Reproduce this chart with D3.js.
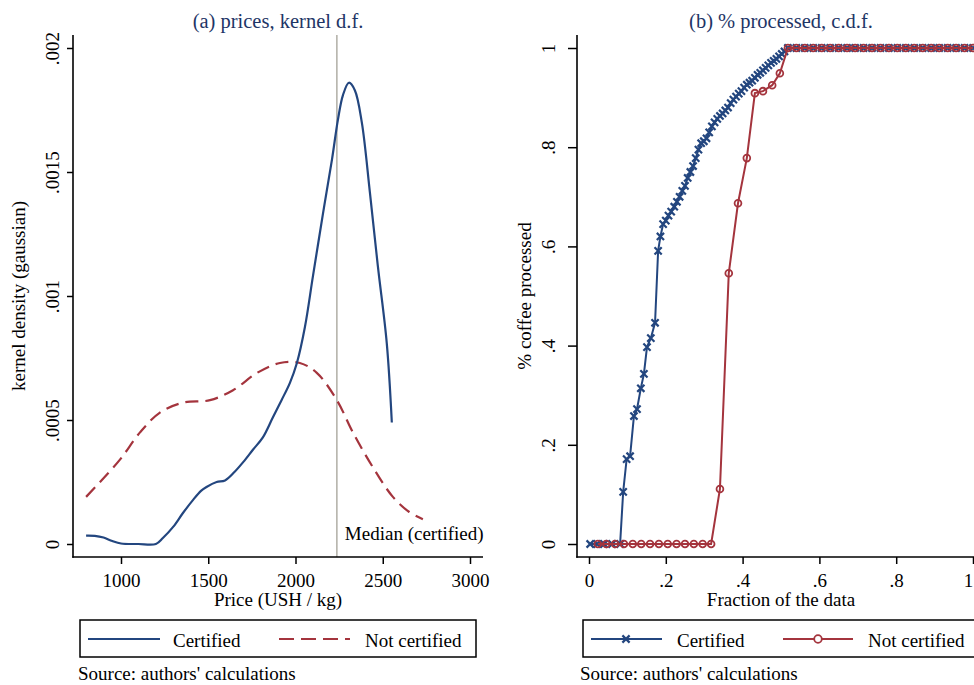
<!DOCTYPE html>
<html>
<head>
<meta charset="utf-8">
<script src="https://cdn.jsdelivr.net/npm/d3@7"></script>
<style>
  html, body { margin: 0; padding: 0; background: #fff; }
  svg { display: block; }
  text { font-family: "Liberation Serif", "Times New Roman", serif; }
</style>
</head>
<body>
<svg id="chart" width="974" height="685"></svg>
<script>
// ---------- DATA ----------
// Panel (a): kernel density of prices [price USH/kg, density]
const certifiedDensity = [
  [800,0.000034],[850,0.000033],[900,0.000026],[950,0.000012],[1000,0.000002],
  [1100,0],[1200,0],[1240,0.000024],[1300,0.00007],[1355,0.000125],[1412,0.000177],
  [1460,0.000215],[1490,0.00023],[1548,0.00025],[1596,0.000256],[1650,0.00029],
  [1700,0.00033],[1756,0.00038],[1813,0.00043],[1870,0.00051],[1920,0.00058],
  [1968,0.00065],[2008,0.00073],[2054,0.000875],[2100,0.00108],[2157,0.00133],
  [2209,0.00155],[2243,0.00171],[2272,0.00181],[2306,0.00186],[2340,0.00183],
  [2380,0.00170],[2426,0.00142],[2472,0.00112],[2523,0.00081],[2552,0.00049]
];
const notCertifiedDensity = [
  [800,0.00019],[880,0.00025],[994,0.00034],[1109,0.00045],[1223,0.00053],
  [1355,0.00057],[1510,0.00058],[1642,0.00062],[1780,0.00069],[1911,0.00073],
  [2025,0.00073],[2122,0.00069],[2237,0.00058],[2329,0.00045],[2443,0.00031],
  [2558,0.00019],[2650,0.00013],[2730,0.0001]
];
const medianCertified = 2237;
const priceTicks = [1000,1500,2000,2500,3000];
const densityTicks = [0,0.0005,0.001,0.0015,0.002];
const densityTickLabels = ["0",".0005",".001",".0015",".002"];

// Panel (b): c.d.f. of % processed [fraction of data, share processed]
const certifiedCdf = [
  [0.003,0],[0.021,0],[0.039,0],[0.060,0],[0.081,0],
  [0.089,0.105],[0.098,0.171],[0.107,0.177],[0.117,0.258],[0.125,0.272],
  [0.135,0.314],[0.143,0.343],[0.151,0.397],[0.161,0.415],[0.172,0.446],
  [0.180,0.591],[0.186,0.620],[0.193,0.645],[0.200,0.652],[0.207,0.662],
  [0.214,0.670],[0.222,0.680],[0.229,0.690],[0.236,0.700],[0.243,0.712],
  [0.250,0.722],[0.257,0.738],[0.264,0.750],[0.271,0.762],[0.278,0.778],
  [0.285,0.795],[0.292,0.808],[0.299,0.812],[0.306,0.818],[0.313,0.830],
  [0.320,0.842],[0.327,0.850],[0.334,0.857],[0.341,0.863],[0.348,0.868],
  [0.355,0.874],[0.362,0.880],[0.369,0.889],[0.376,0.896],[0.383,0.902],
  [0.390,0.908],[0.397,0.913],[0.404,0.920],[0.411,0.926],[0.418,0.930],
  [0.425,0.934],[0.432,0.940],[0.439,0.946],[0.446,0.950],[0.453,0.955],
  [0.460,0.960],[0.467,0.965],[0.474,0.970],[0.481,0.974],[0.488,0.978],
  [0.495,0.983],[0.502,0.988],[0.509,0.993],[0.518,1],
  [0.540,1],[0.562,1],[0.584,1],[0.606,1],[0.628,1],[0.650,1],[0.672,1],
  [0.693,1],[0.715,1],[0.737,1],[0.759,1],[0.781,1],[0.803,1],[0.825,1],
  [0.847,1],[0.869,1],[0.891,1],[0.912,1],[0.934,1],[0.956,1],[0.978,1],[1.0,1]
];
const notCertifiedCdf = [
  [0.023,0],[0.045,0],[0.068,0],[0.091,0],[0.114,0],[0.136,0],[0.159,0],
  [0.182,0],[0.205,0],[0.228,0],[0.250,0],[0.273,0],[0.296,0],[0.318,0],
  [0.341,0.111],[0.364,0.546],[0.388,0.687],[0.411,0.778],[0.432,0.909],
  [0.453,0.913],[0.477,0.925],[0.497,0.949],[0.518,1],
  [0.540,1],[0.562,1],[0.584,1],[0.606,1],[0.628,1],[0.650,1],[0.672,1],
  [0.693,1],[0.715,1],[0.737,1],[0.759,1],[0.781,1],[0.803,1],[0.825,1],
  [0.847,1],[0.869,1],[0.891,1],[0.912,1],[0.934,1],[0.956,1],[0.978,1],[1.0,1]
];
const fracTicks = [0,0.2,0.4,0.6,0.8,1];
const fracTickLabels = ["0",".2",".4",".6",".8","1"];
const shareTicks = [0,0.2,0.4,0.6,0.8,1];
const shareTickLabels = ["0",".2",".4",".6",".8","1"];
const seriesNames = ["Certified","Not certified"];

// ---------- STYLE ----------
const BLUE = "#23467f";
const RED = "#a4343d";
const TITLE = "#1e3566";
const FS = 19;

const svg = d3.select("#chart");

// ================= Panel (a) =================
{
  const x = d3.scaleLinear().domain([1000,3000]).range([121,470]);
  const y = d3.scaleLinear().domain([0,0.002]).range([544,48]);
  const left = 73, right = 483, top = 35, bottom = 557;

  const g = svg.append("g");
  g.append("text").attr("x",(left+right)/2).attr("y",28).attr("text-anchor","middle")
    .attr("font-size",20.5).attr("fill",TITLE).text("(a) prices, kernel d.f.");

  // median line
  g.append("line").attr("x1",x(medianCertified)).attr("x2",x(medianCertified))
    .attr("y1",top).attr("y2",bottom).attr("stroke","#b5b3ab").attr("stroke-width",1.6);
  g.append("text").attr("x",x(medianCertified)+8).attr("y",540).attr("font-size",FS)
    .attr("fill","#000").text("Median (certified)");

  const line = d3.line().x(d=>x(d[0])).y(d=>y(d[1])).curve(d3.curveCatmullRom.alpha(0.5));
  g.append("path").datum(notCertifiedDensity).attr("d",line).attr("fill","none")
    .attr("stroke",RED).attr("stroke-width",2.2).attr("stroke-dasharray","13,7");
  g.append("path").datum(certifiedDensity).attr("d",line).attr("fill","none")
    .attr("stroke",BLUE).attr("stroke-width",2.2);

  // x axis
  const xa = g.append("g").attr("transform",`translate(0,${bottom})`)
    .call(d3.axisBottom(x).tickValues(priceTicks).tickSize(7).tickSizeOuter(0).tickFormat(d3.format("d")));
  xa.select(".domain").remove();
  xa.selectAll(".tick line").attr("stroke","#000").attr("stroke-width",1.5);
  xa.selectAll(".tick text").attr("font-size",FS).attr("font-family","Liberation Serif")
    .attr("fill","#000").attr("y",30).attr("dy",0);
  g.append("line").attr("x1",left-0.75).attr("x2",right).attr("y1",bottom).attr("y2",bottom)
    .attr("stroke","#000").attr("stroke-width",1.6);

  // y axis
  const ya = g.append("g").attr("transform",`translate(${left},0)`)
    .call(d3.axisLeft(y).tickValues(densityTicks).tickSize(6).tickFormat((d,i)=>densityTickLabels[i]));
  ya.select(".domain").remove();
  ya.selectAll(".tick line").attr("stroke","#000").attr("stroke-width",1.5);
  ya.selectAll(".tick text").attr("font-size",FS).attr("font-family","Liberation Serif")
    .attr("fill","#000").attr("x",0).attr("dy",0).attr("text-anchor","middle")
    .attr("transform","translate(-14,0) rotate(-90)");
  g.append("line").attr("x1",left).attr("x2",left).attr("y1",top).attr("y2",bottom+0.75)
    .attr("stroke","#000").attr("stroke-width",1.6);

  g.append("text").attr("x",(left+right)/2).attr("y",606).attr("text-anchor","middle")
    .attr("font-size",FS).text("Price (USH / kg)");
  g.append("text").attr("transform","translate(25,296) rotate(-90)").attr("text-anchor","middle")
    .attr("font-size",FS).text("kernel density (gaussian)");

  // legend
  g.append("rect").attr("x",80).attr("y",620).attr("width",396).attr("height",37)
    .attr("fill","#fff").attr("stroke","#000").attr("stroke-width",1.5);
  g.append("line").attr("x1",88).attr("x2",160).attr("y1",639).attr("y2",639)
    .attr("stroke",BLUE).attr("stroke-width",2.2);
  g.append("text").attr("x",173).attr("y",647).attr("font-size",FS).text(seriesNames[0]);
  g.append("line").attr("x1",279).attr("x2",350).attr("y1",639).attr("y2",639)
    .attr("stroke",RED).attr("stroke-width",2.2).attr("stroke-dasharray","15,7");
  g.append("text").attr("x",365).attr("y",647).attr("font-size",FS).text(seriesNames[1]);

  g.append("text").attr("x",78).attr("y",680).attr("font-size",FS).text("Source: authors' calculations");
}

// ================= Panel (b) =================
{
  const x = d3.scaleLinear().domain([0,1]).range([589,973]);
  const y = d3.scaleLinear().domain([0,1]).range([544,48]);
  const left = 577, right = 990, top = 35, bottom = 557;

  const g = svg.append("g");
  g.append("text").attr("x",781).attr("y",28).attr("text-anchor","middle")
    .attr("font-size",20.5).attr("fill",TITLE).text("(b) % processed, c.d.f.");

  const line = d3.line().x(d=>x(d[0])).y(d=>y(d[1]));
  const xMark = "M-3.6,-3.6L3.6,3.6M-3.6,3.6L3.6,-3.6";

  g.append("path").datum(certifiedCdf).attr("d",line).attr("fill","none")
    .attr("stroke",BLUE).attr("stroke-width",2);
  g.selectAll(".xm").data(certifiedCdf).join("path").attr("class","xm")
    .attr("transform",d=>`translate(${x(d[0])},${y(d[1])})`).attr("d",xMark)
    .attr("stroke",BLUE).attr("stroke-width",2.2).attr("fill","none");

  g.append("path").datum(notCertifiedCdf).attr("d",line).attr("fill","none")
    .attr("stroke",RED).attr("stroke-width",2);
  g.selectAll(".cm").data(notCertifiedCdf).join("circle").attr("class","cm")
    .attr("cx",d=>x(d[0])).attr("cy",d=>y(d[1])).attr("r",3.4)
    .attr("fill","none").attr("stroke",RED).attr("stroke-width",1.8);

  const xa = g.append("g").attr("transform",`translate(0,${bottom})`)
    .call(d3.axisBottom(x).tickValues(fracTicks).tickSize(7).tickFormat((d,i)=>fracTickLabels[i]));
  xa.select(".domain").remove();
  xa.selectAll(".tick line").attr("stroke","#000").attr("stroke-width",1.5);
  xa.selectAll(".tick text").attr("font-size",FS).attr("font-family","Liberation Serif")
    .attr("fill","#000").attr("y",30).attr("dy",0)
    .attr("x",(d,i)=> i===fracTicks.length-1 ? -5 : 0);
  g.append("line").attr("x1",left-0.75).attr("x2",right).attr("y1",bottom).attr("y2",bottom)
    .attr("stroke","#000").attr("stroke-width",1.6);

  const ya = g.append("g").attr("transform",`translate(${left},0)`)
    .call(d3.axisLeft(y).tickValues(shareTicks).tickSize(9).tickFormat((d,i)=>shareTickLabels[i]));
  ya.select(".domain").remove();
  ya.selectAll(".tick line").attr("stroke","#000").attr("stroke-width",1.5);
  ya.selectAll(".tick text").attr("font-size",FS).attr("font-family","Liberation Serif")
    .attr("fill","#000").attr("x",0).attr("dy",0).attr("text-anchor","middle")
    .attr("transform","translate(-22,0) rotate(-90)");
  g.append("line").attr("x1",left).attr("x2",left).attr("y1",top).attr("y2",bottom+0.75)
    .attr("stroke","#000").attr("stroke-width",1.6);

  g.append("text").attr("x",781).attr("y",606).attr("text-anchor","middle")
    .attr("font-size",FS).text("Fraction of the data");
  g.append("text").attr("transform","translate(531,296) rotate(-90)").attr("text-anchor","middle")
    .attr("font-size",FS).text("% coffee processed");

  // legend
  g.append("rect").attr("x",583).attr("y",620).attr("width",400).attr("height",37)
    .attr("fill","#fff").attr("stroke","#000").attr("stroke-width",1.5);
  g.append("line").attr("x1",591).attr("x2",662).attr("y1",639).attr("y2",639)
    .attr("stroke",BLUE).attr("stroke-width",2);
  g.append("path").attr("transform","translate(626,639)").attr("d",xMark)
    .attr("stroke",BLUE).attr("stroke-width",2.2).attr("fill","none");
  g.append("text").attr("x",677).attr("y",647).attr("font-size",FS).text(seriesNames[0]);
  g.append("line").attr("x1",783).attr("x2",853).attr("y1",639).attr("y2",639)
    .attr("stroke",RED).attr("stroke-width",2);
  g.append("circle").attr("cx",818).attr("cy",639).attr("r",3.8)
    .attr("fill","#fff").attr("stroke",RED).attr("stroke-width",1.8);
  g.append("text").attr("x",868).attr("y",647).attr("font-size",FS).text(seriesNames[1]);

  g.append("text").attr("x",580).attr("y",680).attr("font-size",FS).text("Source: authors' calculations");
}
</script>
</body>
</html>
